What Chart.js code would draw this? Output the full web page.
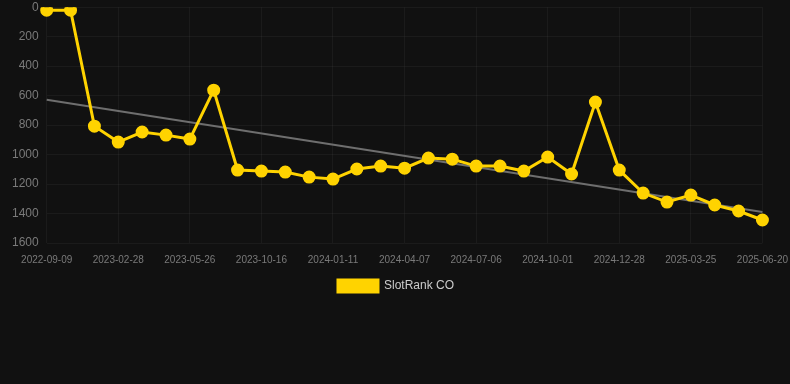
<!DOCTYPE html>
<html>
<head>
<meta charset="utf-8">
<script src="https://cdn.jsdelivr.net/npm/chart.js@4/dist/chart.umd.min.js"></script>
<style>
  html, body { margin: 0; padding: 0; background: #111111; overflow: hidden; }
  .wrap { width: 790px; height: 310px; margin-top: -8px; position: relative; }
</style>
</head>
<body>
<div class="wrap"><canvas id="rankChart"></canvas></div>
<script>
// Dates (x categories)
const dates = [
  '2022-09-09', '2022-11-10', '2023-01-05', '2023-02-28', '2023-03-28', '2023-04-27',
  '2023-05-26', '2023-07-14', '2023-08-30', '2023-10-16', '2023-11-14', '2023-12-13',
  '2024-01-11', '2024-02-09', '2024-03-09', '2024-04-07', '2024-05-07', '2024-06-06',
  '2024-07-06', '2024-08-04', '2024-09-02', '2024-10-01', '2024-10-30', '2024-11-29',
  '2024-12-28', '2025-01-26', '2025-02-24', '2025-03-25', '2025-04-23', '2025-05-22',
  '2025-06-20'
];

// SlotRank CO positions
const rankValues = [
  20, 20, 807, 915, 847, 868, 895, 563, 1105, 1112, 1119, 1153,
  1166, 1098, 1078, 1092, 1024, 1031, 1078, 1078, 1112, 1017, 1132, 644,
  1105, 1261, 1322, 1275, 1342, 1383, 1444
];

// trend line end points (first and last category only)
const trendValues = dates.map(() => null);
trendValues[0] = 628;
trendValues[dates.length - 1] = 1390;

const yTicks = { min: 0, max: 1600, step: 200 };

const gridColor = 'rgba(255,255,255,0.045)';
const tickColor = '#7a7a7a';
const fontFamily = '"Liberation Sans", Arial, sans-serif';

new Chart(document.getElementById('rankChart').getContext('2d'), {
  type: 'line',
  data: {
    labels: dates,
    datasets: [
      {
        label: 'SlotRank CO', data: rankValues,
        borderColor: '#FFD300', backgroundColor: '#FFD300',
        borderWidth: 3, pointRadius: 5, pointHoverRadius: 5,
        tension: 0, order: 1
      },
      {
        label: 'trend', data: trendValues,
        borderColor: '#6e6e6e', borderWidth: 2,
        pointRadius: 0, spanGaps: true, order: 2
      }
    ]
  },
  options: {
    responsive: true, maintainAspectRatio: false, animation: false,
    layout: { padding: { left: 4, right: 2, top: 0, bottom: 0 } },
    plugins: {
      legend: {
        position: 'bottom',
        labels: {
          color: '#cccccc', boxWidth: 40, boxHeight: 12, padding: 12,
          font: { family: fontFamily, size: 12 },
          filter: item => item.text !== 'trend'
        }
      },
      tooltip: { enabled: false }
    },
    scales: {
      x: {
        offset: false,
        grid: { color: gridColor, drawTicks: true, tickLength: 9, tickColor: 'transparent' },
        border: { display: false },
        ticks: {
          color: tickColor, maxRotation: 0, autoSkip: true, maxTicksLimit: 11,
          padding: 2,
          font: { family: fontFamily, size: 10 }
        }
      },
      y: {
        reverse: true, min: yTicks.min, max: yTicks.max,
        grid: { color: gridColor, drawTicks: false },
        border: { display: false },
        ticks: {
          stepSize: yTicks.step, color: tickColor, padding: 8,
          font: { family: fontFamily, size: 12 },
          callback: v => String(v)
        }
      }
    }
  }
});
</script>
</body>
</html>
